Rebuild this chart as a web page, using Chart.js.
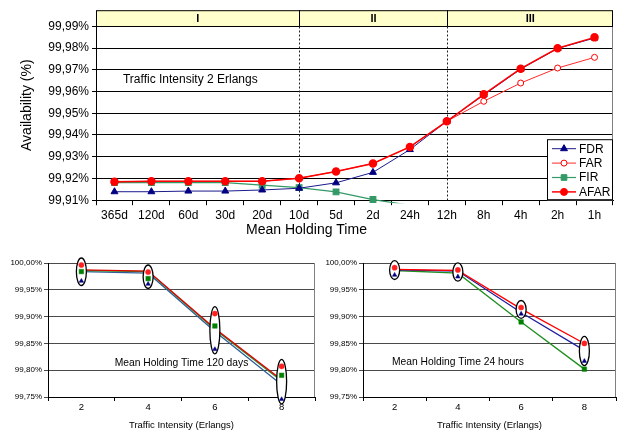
<!DOCTYPE html>
<html><head><meta charset="utf-8">
<script src="https://cdn.jsdelivr.net/npm/chart.js@4/dist/chart.umd.min.js"></script>
<style>
html,body{margin:0;padding:0;background:#fff;overflow:hidden;width:625px;height:439px;position:relative}
.box{position:absolute}
</style></head><body>
<div class="box" style="left:0;top:0"><canvas id="top" width="646" height="245"></canvas></div>
<div class="box" style="left:0;top:240px"><canvas id="bl" width="320" height="199"></canvas></div>
<div class="box" style="left:315px;top:240px"><canvas id="br" width="310" height="199"></canvas></div>
<script>
Chart.defaults.font.family = 'Arial, "Liberation Sans", sans-serif';
Chart.defaults.color = '#000';
Chart.defaults.animation = false;

// ---- top chart: availability vs mean holding time (2 Erlangs)
const holdLabels = ['365d','120d','60d','30d','20d','10d','5d','2d','24h','12h','8h','4h','2h','1h'];
const fdr  = [99.9139,99.9139,99.9142,99.9142,99.9147,99.9155,99.9180,99.9228,99.9333,99.9463,99.9584,99.9703,99.9798,99.9846];
const far  = [99.9185,99.9187,99.9187,99.9187,99.9187,99.9201,99.9232,99.9269,99.9345,99.9463,99.9555,99.9639,99.9708,99.9757];
const fir  = [99.9181,99.9181,99.9181,99.9181,99.9169,99.9158,99.9138,99.9103,99.9077,null,null,null,null,null];
const afar = [99.9185,99.9187,99.9187,99.9187,99.9187,99.9201,99.9232,99.9269,99.9345,99.9463,99.9587,99.9705,99.9799,99.9849];
const yTicksTop = [99.91,99.92,99.93,99.94,99.95,99.96,99.97,99.98,99.99];
const Y_TOP = 99.9974;           // axis top, hidden under the phase band
const phaseNames = ['I','II','III'];
const phaseCuts = ['10d','12h'];
const legendOrder = ['FDR','FAR','FIR','AFAR'];

// ---- bottom charts: availability vs traffic intensity
const erlangs = ['2','4','6','8'];
const smallTicks = [99.75,99.80,99.85,99.90,99.95,100.00];
// 120 days
const d120LineRed   = [99.9870,99.9850,99.8780,99.7820];
const d120LineGreen = [99.9860,99.9840,99.8760,99.7800];
const d120LineBlue  = [99.9840,99.9810,99.8720,99.7730];
const d120MarkRed   = [99.9963,99.9832,99.9056,99.8073];
const d120MarkGreen = [99.9840,99.9709,99.8825,99.7905];
const d120MarkBlue  = [99.9664,99.9608,99.8390,99.7457];
// 24 hours
const h24LineRed   = [99.9880,99.9860,99.9145,99.8498];
const h24LineBlue  = [99.9870,99.9850,99.9076,99.8370];
const h24LineGreen = [99.9860,99.9810,99.8900,99.8020];
const h24MarkRed   = [99.9912,99.9870,99.9170,99.8500];
const h24MarkBlue  = [99.9776,99.9744,99.9050,99.8170];
const h24MarkGreen = [null,null,99.8900,99.8020];

const pct = v => Number(v).toFixed(2).replace('.', ',') + '%';

function marker(ctx, style, r, x, y, fill, stroke) {
  ctx.save();
  ctx.fillStyle = fill; ctx.strokeStyle = stroke; ctx.lineWidth = 1;
  ctx.beginPath();
  if (style === 'triangle') {
    ctx.moveTo(x, y - r); ctx.lineTo(x + r * 0.866, y + r * 0.5); ctx.lineTo(x - r * 0.866, y + r * 0.5); ctx.closePath();
  } else if (style === 'rect') {
    const s = r * Math.SQRT1_2; ctx.rect(x - s, y - s, 2 * s, 2 * s);
  } else {
    ctx.arc(x, y, r, 0, Math.PI * 2);
  }
  ctx.fill(); ctx.stroke();
  ctx.restore();
}

const topDecor = {
  id: 'topDecor',
  beforeDatasetsDraw(chart) {
    const {ctx, chartArea: a, scales: {x, y}} = chart;
    const hb = Math.round(y.getPixelForValue(yTicksTop[yTicksTop.length - 1])) + 0.5;
    const cuts = phaseCuts.map(l => Math.round(x.getPixelForValue(holdLabels.indexOf(l))) + 0.5);
    ctx.save();
    ctx.strokeStyle = '#808080'; ctx.lineWidth = 1;
    ctx.beginPath(); ctx.moveTo(a.right - 0.5, a.top); ctx.lineTo(a.right - 0.5, a.bottom); ctx.stroke();
    ctx.fillStyle = '#ffffcc';
    ctx.fillRect(a.left, a.top, a.right - a.left, hb - a.top);
    ctx.strokeStyle = '#000';
    ctx.strokeRect(a.left + 0.5, a.top + 0.5, a.right - a.left - 1, hb - a.top - 0.5);
    cuts.forEach(cx => {
      ctx.setLineDash([]);
      ctx.beginPath(); ctx.moveTo(cx, a.top); ctx.lineTo(cx, hb); ctx.stroke();
      ctx.setLineDash([2, 2]);
      ctx.strokeStyle = '#222';
      ctx.beginPath(); ctx.moveTo(cx, hb); ctx.lineTo(cx, a.bottom); ctx.stroke();
      ctx.strokeStyle = '#000';
    });
    ctx.setLineDash([]);
    const edges = [a.left, ...cuts, a.right];
    ctx.fillStyle = '#000';
    ctx.font = 'bold 11px Arial, "Liberation Sans", sans-serif';
    ctx.textAlign = 'center'; ctx.textBaseline = 'middle';
    phaseNames.forEach((n, i) => ctx.fillText(n, (edges[i] + edges[i + 1]) / 2, (a.top + hb) / 2 + 1));
    ctx.font = '12px Arial, "Liberation Sans", sans-serif';
    ctx.fillText('Traffic Intensity 2 Erlangs', x.getPixelForValue(2) + 2, y.getPixelForValue(99.9655));
    ctx.restore();
  },
  afterDraw(chart) {
    const {ctx, chartArea: a} = chart;
    const w = 66, h = 61, bx = a.right - w, by = a.bottom - h;
    ctx.save();
    ctx.fillStyle = '#fff'; ctx.fillRect(bx, by, w, h);
    ctx.strokeStyle = '#000'; ctx.lineWidth = 1;
    ctx.strokeRect(bx + 0.5, by + 0.5, w - 1, h - 1);
    ctx.font = '12px Arial, "Liberation Sans", sans-serif';
    ctx.textBaseline = 'middle'; ctx.textAlign = 'left';
    legendOrder.forEach((lab, i) => {
      const ds = chart.data.datasets.find(d => d.label === lab);
      const ly = by + 9.5 + i * 14.4;
      ctx.strokeStyle = ds.borderColor; ctx.lineWidth = ds.borderWidth;
      ctx.beginPath(); ctx.moveTo(bx + 5, ly); ctx.lineTo(bx + 29, ly); ctx.stroke();
      marker(ctx, ds.pointStyle, ds.markSize, bx + 17, ly, ds.pointBackgroundColor, ds.pointBorderColor);
      ctx.fillStyle = '#000';
      ctx.fillText(lab, bx + 32, ly + 0.5);
    });
    ctx.restore();
  }
};

// hide markers that fall below the visible axis
const sizeAbove = r => c => (c.raw == null || c.raw < yTicksTop[0]) ? 0 : r;

new Chart(document.getElementById('top'), {
  type: 'line',
  data: {
    labels: holdLabels,
    datasets: [
      {label: 'AFAR', data: afar, borderColor: '#ff0000', borderWidth: 1.5, pointStyle: 'circle', markSize: 3.5,
       pointRadius: sizeAbove(3.5), pointBackgroundColor: '#ff0000', pointBorderColor: '#ff0000', tension: 0},
      {label: 'FAR', data: far, borderColor: '#ff2a2a', borderWidth: 1, pointStyle: 'circle', markSize: 3,
       pointRadius: sizeAbove(3), pointBackgroundColor: '#ffffff', pointBorderColor: '#ff0000', tension: 0},
      {label: 'FDR', data: fdr, borderColor: '#1a1a8c', borderWidth: 1, pointStyle: 'triangle', markSize: 4,
       pointRadius: sizeAbove(4), pointBackgroundColor: '#000080', pointBorderColor: '#000080', tension: 0},
      {label: 'FIR', data: fir, borderColor: '#339966', borderWidth: 1.2, pointStyle: 'rect', markSize: 4,
       pointRadius: sizeAbove(4), pointBackgroundColor: '#339966', pointBorderColor: '#339966', tension: 0,
       clip: {left: 5, right: 5, top: 5, bottom: 3}}
    ]
  },
  options: {
    responsive: false,
    layout: {padding: {left: 0, right: 33, top: 0, bottom: 0}},
    plugins: {
      legend: {display: false}, tooltip: {enabled: false},
      title: {display: true, position: 'bottom', text: 'Mean Holding Time',
        font: {size: 14, weight: 'normal'}, color: '#000', padding: {top: 0, bottom: 6}}
    },
    scales: {
      x: {
        offset: true,
        grid: {offset: true, drawOnChartArea: false, tickLength: 5, color: '#000'},
        border: {color: '#000'},
        ticks: {font: {size: 12}, color: '#000', padding: 3, maxRotation: 0, autoSkip: false},
        afterFit: s => { s.height = 22; }
      },
      y: {
        min: yTicksTop[0], max: Y_TOP,
        afterBuildTicks: s => { s.ticks = yTicksTop.map(v => ({value: v})); },
        grid: {color: '#000', tickLength: 4},
        border: {color: '#000'},
        ticks: {font: {size: 12}, color: '#000', padding: 3, callback: v => pct(v)},
        title: {display: true, text: 'Availability (%)', font: {size: 14}, color: '#000', padding: {top: 19, bottom: 0}},
        afterFit: s => { s.width = 96; }
      }
    }
  },
  plugins: [topDecor]
});

// ---- bottom charts
const ringPlugin = {
  id: 'rings',
  beforeDatasetsDraw(chart) {
    const {ctx, chartArea: a} = chart;
    ctx.save();
    ctx.strokeStyle = '#808080'; ctx.lineWidth = 1;
    ctx.beginPath(); ctx.moveTo(a.right - 0.5, a.top); ctx.lineTo(a.right - 0.5, a.bottom); ctx.stroke();
    const n = chart.options.plugins.note;
    ctx.font = '10.3px Arial, "Liberation Sans", sans-serif';
    ctx.fillStyle = '#000'; ctx.textAlign = 'center'; ctx.textBaseline = 'middle';
    ctx.fillText(n.text, chart.scales.x.getPixelForValue(n.at), chart.scales.y.getPixelForValue(n.value));
    ctx.restore();
  },
  // rings go over the lines, under the markers
  beforeDatasetDraw(chart, args) {
    if (args.index !== chart.data.datasets.filter(d => d.mark).length - 1) return;
    const {ctx, scales: {x, y}} = chart;
    const marks = chart.data.datasets.filter(d => d.ring);
    ctx.save();
    erlangs.forEach((_, i) => {
      const vals = marks.map(d => d.data[i]).filter(v => v != null);
      const top = y.getPixelForValue(Math.max(...vals)) - 7;
      const bot = y.getPixelForValue(Math.min(...vals)) + 4.5;
      const cx = x.getPixelForValue(i);
      ctx.beginPath();
      ctx.ellipse(cx, (top + bot) / 2, 5, (bot - top) / 2, 0, 0, Math.PI * 2);
      ctx.fillStyle = '#fff'; ctx.fill();
      ctx.strokeStyle = '#000'; ctx.lineWidth = 1.3; ctx.stroke();
    });
    ctx.restore();
  }
};

function smallChart(id, marks, lines, note, padRight) {
  const ds = [];
  marks.forEach(m => ds.push({mark: true, ring: m.ring, data: m.data, showLine: false, clip: false,
    pointStyle: m.style, pointRadius: m.style === 'rect' ? 3.2 : 2.6,
    pointBackgroundColor: m.color, pointBorderColor: m.color, pointBorderWidth: 0.5}));
  lines.forEach(l => ds.push({data: l.data, borderColor: l.color, borderWidth: 1.3, pointRadius: 0, tension: 0, fill: false}));
  new Chart(document.getElementById(id), {
    type: 'line',
    data: {labels: erlangs, datasets: ds},
    options: {
      responsive: false,
      layout: {padding: {left: 0, right: padRight, top: 23, bottom: 0}},
      plugins: {legend: {display: false}, tooltip: {enabled: false}, note: note},
      scales: {
        x: {
          offset: true,
          grid: {offset: true, drawOnChartArea: false, tickLength: 4, color: '#000'},
          border: {color: '#000'},
          ticks: {font: {size: 9.5}, color: '#000', padding: 1, maxRotation: 0},
          title: {display: true, text: 'Traffic Intensity (Erlangs)', font: {size: 9.5}, color: '#000', padding: {top: 0, bottom: 8}},
          afterFit: s => { s.height = 42; }
        },
        y: {
          min: smallTicks[0], max: smallTicks[smallTicks.length - 1],
          afterBuildTicks: s => { s.ticks = smallTicks.map(v => ({value: v})); },
          grid: {color: '#4a4a4a', tickLength: 4},
          border: {color: '#000'},
          ticks: {font: {size: 8}, color: '#000', padding: 2, callback: v => pct(v)},
          afterFit: s => { s.width = 48; }
        }
      }
    },
    plugins: [ringPlugin]
  });
}

smallChart('bl',
  [{data: d120MarkRed, color: '#ff2020', style: 'circle', ring: true},
   {data: d120MarkGreen, color: '#008000', style: 'rect', ring: true},
   {data: d120MarkBlue, color: '#000080', style: 'triangle', ring: true}],
  [{data: d120LineRed, color: '#e00000'},
   {data: d120LineGreen, color: '#2e8b2e'},
   {data: d120LineBlue, color: '#2f5f9a'}],
  {text: 'Mean Holding Time 120 days', at: 1.5, value: 99.8134}, 5);

smallChart('br',
  [{data: h24MarkRed, color: '#ff2020', style: 'circle', ring: true},
   {data: h24MarkBlue, color: '#000080', style: 'triangle', ring: true},
   {data: h24MarkGreen, color: '#008000', style: 'rect', ring: false}],
  [{data: h24LineRed, color: '#ff0000'},
   {data: h24LineBlue, color: '#2020a0'},
   {data: h24LineGreen, color: '#1f8f1f'}],
  {text: 'Mean Holding Time 24 hours', at: 1, value: 99.8152}, 9);
</script>
</body></html>
